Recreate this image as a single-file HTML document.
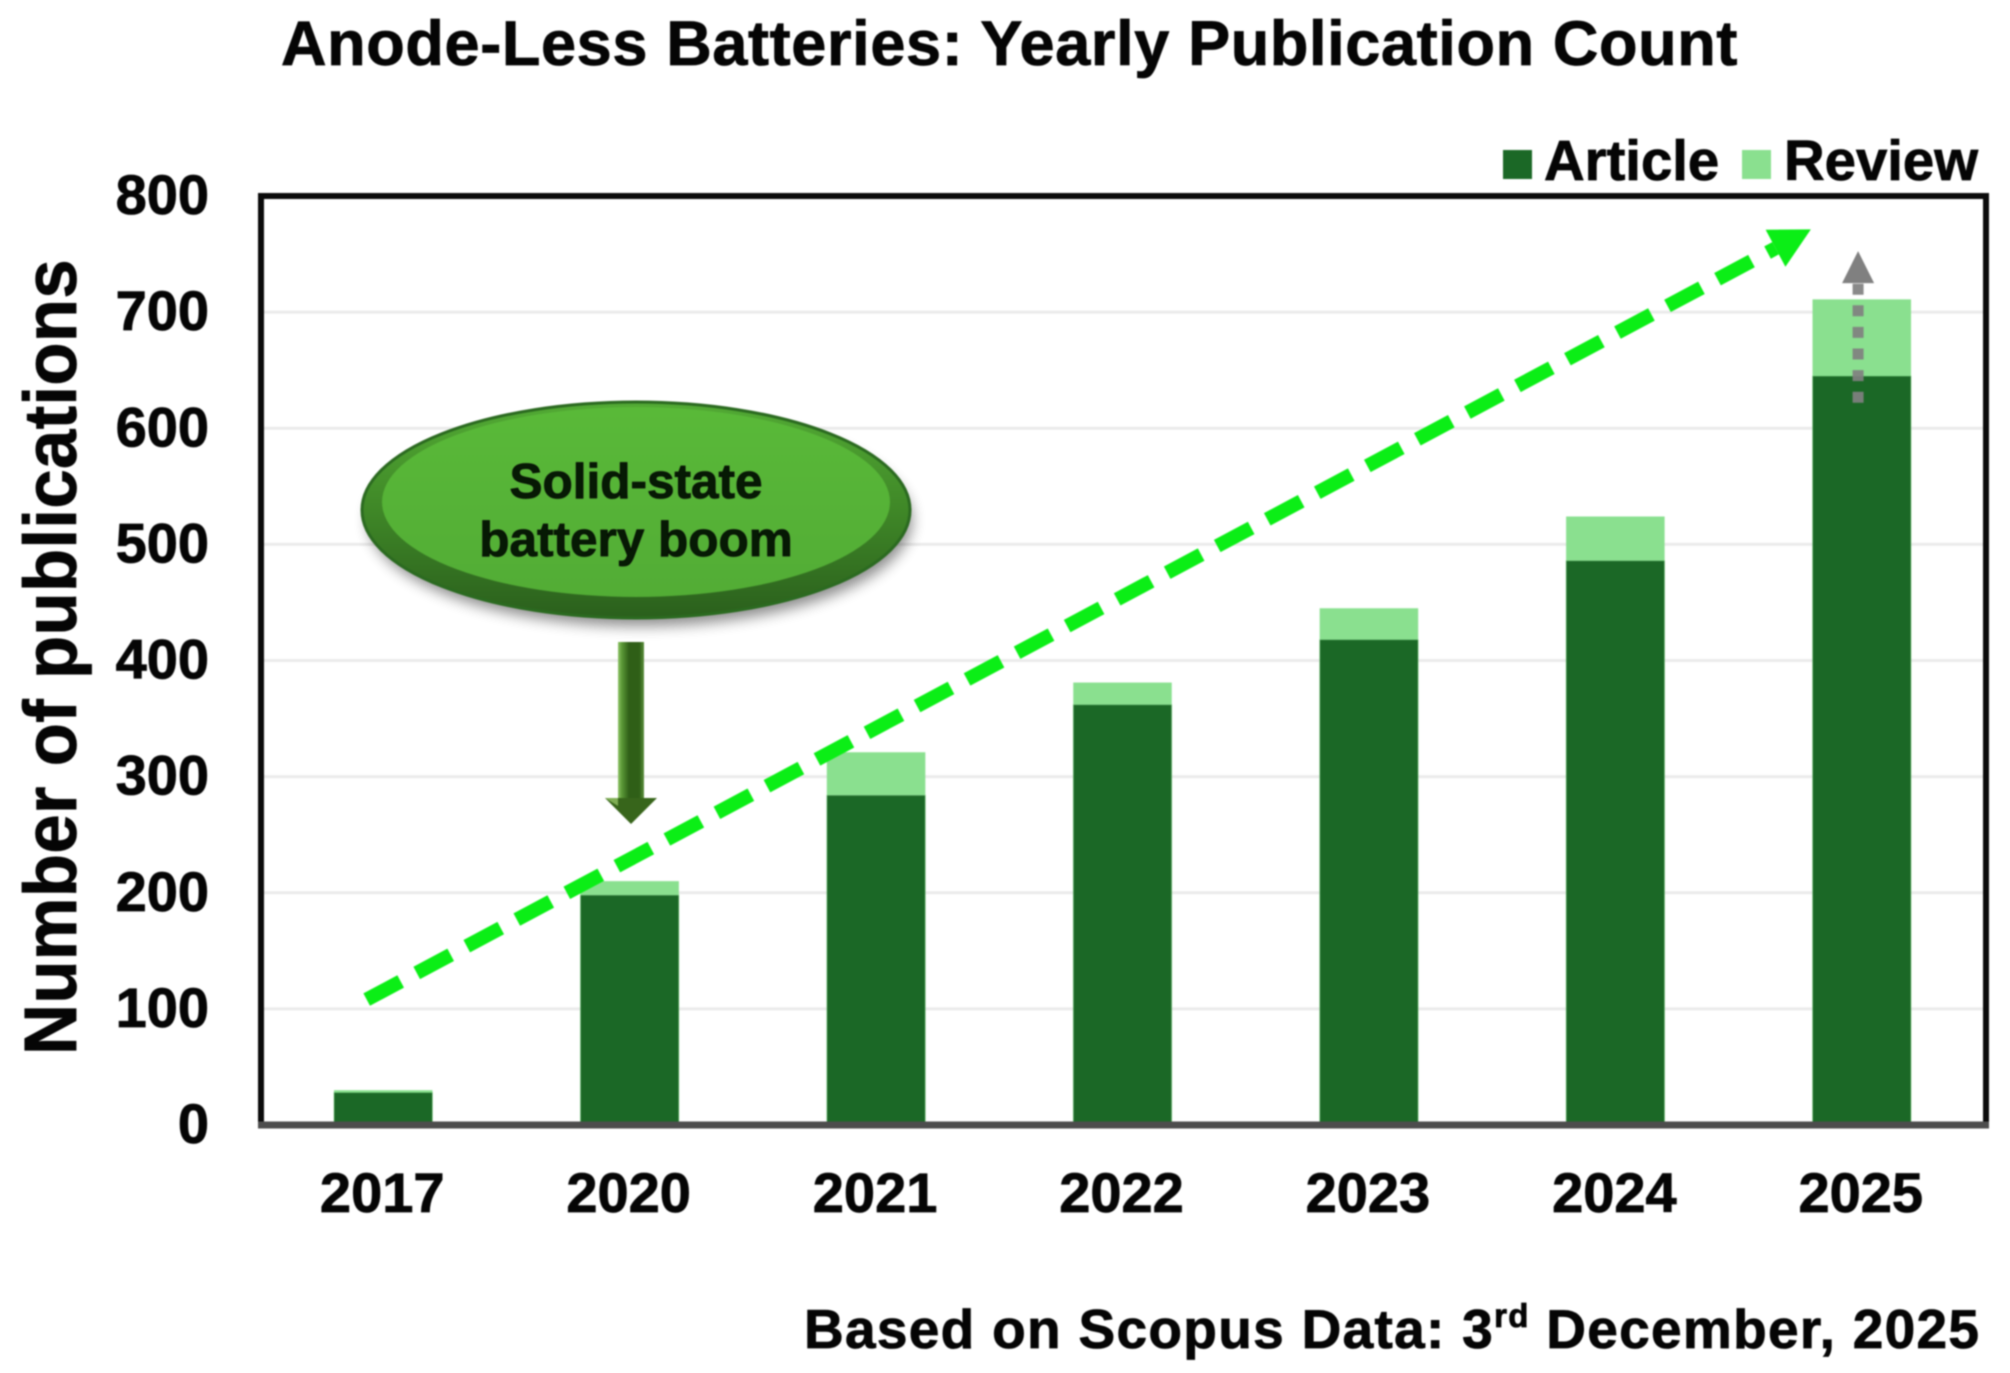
<!DOCTYPE html>
<html lang="en">
<head>
<meta charset="utf-8">
<title>Anode-Less Batteries: Yearly Publication Count</title>
<style>
html,body{margin:0;padding:0;background:#fff;}
body{width:2010px;height:1373px;overflow:hidden;}
svg{display:block;filter:blur(0.8px);font-family:"Liberation Sans",Arial,sans-serif;font-weight:700;}
svg text{stroke:#050505;stroke-width:0.8px;}
</style>
</head>
<body>
<svg id="chart" xmlns="http://www.w3.org/2000/svg" width="2010" height="1373" viewBox="0 0 2010 1373">
  <defs>
    <linearGradient id="shaftGrad" x1="0" y1="0" x2="1" y2="0">
      <stop offset="0" stop-color="#8fc468"/>
      <stop offset="0.14" stop-color="#5c9a38"/>
      <stop offset="0.42" stop-color="#2f5f17"/>
      <stop offset="0.82" stop-color="#2f5f17"/>
      <stop offset="1" stop-color="#5c8f3c"/>
    </linearGradient>
    <linearGradient id="rimGrad" x1="0" y1="0" x2="0" y2="1">
      <stop offset="0" stop-color="#52aa34"/>
      <stop offset="0.5" stop-color="#3f8727"/>
      <stop offset="1" stop-color="#2a5f1c"/>
    </linearGradient>
    <linearGradient id="faceGrad" x1="0" y1="0" x2="0" y2="1">
      <stop offset="0" stop-color="#59b938"/>
      <stop offset="1" stop-color="#52ac35"/>
    </linearGradient>
    <filter id="softShadow" x="-20%" y="-40%" width="140%" height="180%">
      <feGaussianBlur stdDeviation="7"/>
    </filter>
  </defs>

  <rect x="0" y="0" width="2010" height="1373" fill="#ffffff"/>

  <text x="281" y="65" font-size="63" letter-spacing="0.65" fill="#050505">Anode-Less Batteries: Yearly Publication Count</text>

  <g id="grid"></g>
  <g id="yTicks"></g>
  <g id="bars"></g>
  <g id="xTicks"></g>

  <rect x="261" y="196" width="1725" height="929" fill="none" stroke="#0a0a0a" stroke-width="6"/>
  <line x1="258" y1="1125" x2="1989" y2="1125" stroke="#4d4d4d" stroke-width="7"/>

  <text transform="translate(76,1055) rotate(-90) scale(1,1.05)" font-size="70.6" letter-spacing="0.35" fill="#050505">Number of publications</text>

  <g>
    <rect x="1503" y="150" width="29" height="29" fill="#1b6826"/>
    <text x="1544" y="180" font-size="56.3" fill="#050505">Article</text>
    <rect x="1742" y="150" width="29" height="29" fill="#8ae08f"/>
    <text x="1784" y="180" font-size="56.3" fill="#050505">Review</text>
  </g>

  <g>
    <ellipse cx="640" cy="520" rx="272" ry="106" fill="#000" opacity="0.45" filter="url(#softShadow)"/>
    <ellipse cx="636" cy="510" rx="274" ry="108" fill="url(#rimGrad)" stroke="#2b6a20" stroke-width="3"/>
    <ellipse cx="636" cy="502" rx="254" ry="95" fill="url(#faceGrad)"/>
    <text x="636" y="498" font-size="49.5" text-anchor="middle" fill="#061a04">Solid-state</text>
    <text x="636" y="556" font-size="49.5" text-anchor="middle" fill="#061a04">battery boom</text>
  </g>

  <g>
    <rect x="618" y="642" width="26" height="156" fill="url(#shaftGrad)"/>
    <polygon points="605,798 657,798 631,824" fill="#37651b"/>
    <polygon points="605,798 618,798 618,806" fill="#7fae55"/>
  </g>

  <g id="annotations"></g>

  <text x="804" y="1348" font-size="55" letter-spacing="1.3" fill="#050505">Based on Scopus Data: 3<tspan font-size="33" dy="-21">rd</tspan><tspan dy="21"> December, 2025</tspan></text>
</svg>

<script>
var categories = ["2017", "2020", "2021", "2022", "2023", "2024", "2025"];
var articleCounts = [28, 198, 284, 362, 418, 486, 645];
var reviewCounts = [2, 12, 37, 19, 27, 38, 66];
var yTickValues = [0, 100, 200, 300, 400, 500, 600, 700, 800];
var trendFrom = [-0.067, 108];
var trendTo = [5.65, 755];
var projectionFrom = [5.985, 622];
var projectionTo = [5.985, 725];

var NS = "http://www.w3.org/2000/svg";
var plotLeft = 260, plotRight = 1985, plotTop = 196, plotBottom = 1125, yMax = 800;
var barWidth = 98.5;

function xBand(i) { return plotLeft + (plotRight - plotLeft) * (i + 0.5) / categories.length; }
function yVal(v) { return plotBottom - (plotBottom - plotTop) * v / yMax; }

function make(tag, parent, props) {
  var el = document.createElementNS(NS, tag);
  for (var k in props) el.setAttribute(k, props[k]);
  parent.appendChild(el);
  return el;
}

var gridG = document.getElementById("grid");
var yG = document.getElementById("yTicks");
var xG = document.getElementById("xTicks");
var barsG = document.getElementById("bars");
var annG = document.getElementById("annotations");

yTickValues.forEach(function (v) {
  if (v !== 0 && v !== yMax) {
    var g = make("line", gridG, { x1: plotLeft + 4, x2: plotRight - 2, y1: yVal(v), y2: yVal(v), stroke: "#ebebeb", "stroke-width": 3 });
    
    
  }
  var t = make("text", yG, { x: 209, y: yVal(v) + 18, "font-size": 56, "text-anchor": "end", fill: "#050505" });
  t.textContent = String(v);
  
  
});

categories.forEach(function (c, i) {
  var cx = xBand(i);
  var a = articleCounts[i], r = reviewCounts[i];
  var rev = make("rect", barsG, { x: cx - barWidth / 2, y: yVal(a + r), width: barWidth, height: yVal(a) - yVal(a + r), fill: "#8ae08f" });
  
  
  var art = make("rect", barsG, { x: cx - barWidth / 2, y: yVal(a), width: barWidth, height: yVal(0) - yVal(a), fill: "#1b6826", stroke: "#8ae08f", "stroke-opacity": 0.45, "stroke-width": 1 });
  
  
  var t = make("text", xG, { x: cx - 1, y: 1212, "font-size": 56, "text-anchor": "middle", fill: "#050505" });
  t.textContent = c;
  
  
});

var tx1 = xBand(trendFrom[0]), ty1 = yVal(trendFrom[1]);
var tx2 = xBand(trendTo[0]), ty2 = yVal(trendTo[1]);
var trend = make("line", annG, { x1: tx1, y1: ty1, x2: tx2, y2: ty2, stroke: "#0bee16", "stroke-width": 14, "stroke-dasharray": "38.5 18.2" });


var ang = Math.atan2(ty2 - ty1, tx2 - tx1);
var headLen = 40, headHalf = 21;
var tipX = tx2 + Math.cos(ang) * headLen, tipY = ty2 + Math.sin(ang) * headLen;
var px = -Math.sin(ang) * headHalf, py = Math.cos(ang) * headHalf;
var trendHead = make("polygon", annG, { points: tipX + "," + tipY + " " + (tx2 + px) + "," + (ty2 + py) + " " + (tx2 - px) + "," + (ty2 - py), fill: "#0bee16" });



var gx = xBand(projectionFrom[0]);
var gy1 = yVal(projectionFrom[1]), gy2 = yVal(projectionTo[1]);
var proj = make("line", annG, { x1: gx, y1: gy1, x2: gx, y2: gy2, stroke: "#808080", "stroke-opacity": 0.92, "stroke-width": 11, "stroke-dasharray": "11 10.6" });


var projHead = make("polygon", annG, { points: gx + "," + (gy2 - 32) + " " + (gx - 16) + "," + gy2 + " " + (gx + 16) + "," + gy2, fill: "#808080" });


</script>
</body>
</html>
